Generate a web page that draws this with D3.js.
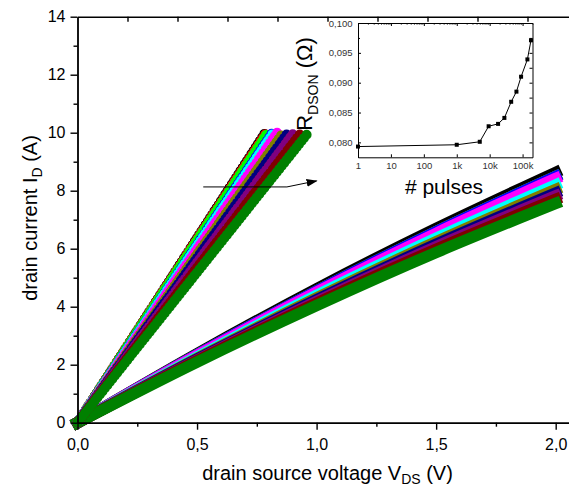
<!DOCTYPE html>
<html>
<head>
<meta charset="utf-8">
<script src="https://cdn.jsdelivr.net/npm/d3@7"></script>
<style>
  body { margin: 0; background: #fff; }
  svg { font-family: "Liberation Sans", Arial, sans-serif; }
</style>
</head>
<body>
<div id="chart"></div>
<script>
// ---- data ----
// steep traces (circles): V_DS where each trace reaches 10 A
const steepColors = ["#000000", "#ff0000", "#00ff00", "#0000ff", "#00ffff", "#ff00ff", "#808000", "#000080", "#800080", "#800000", "#008000"];
const steepEndV = [0.785, 0.79, 0.795, 0.815, 0.82, 0.835, 0.86, 0.88, 0.905, 0.935, 0.965];
const steepEndI = 10;

// shallow traces (squares): current at these voltages, one row per trace
const shallowV = [0, 0.5, 1.0, 1.5, 2.0];
const shallowColors = ["#000000", "#ff0000", "#00ff00", "#0000ff", "#ff00ff", "#00ffff", "#808000", "#000080", "#800080", "#800000", "#008000"];
const shallowI = [
  [0, 2.38, 4.62, 6.70, 8.63],
  [0, 2.34, 4.54, 6.59, 8.49],
  [0, 2.34, 4.54, 6.59, 8.49],
  [0, 2.34, 4.54, 6.59, 8.49],
  [0, 2.32, 4.50, 6.53, 8.42],
  [0, 2.26, 4.39, 6.36, 8.20],
  [0, 2.22, 4.30, 6.24, 8.04],
  [0, 2.19, 4.24, 6.15, 7.92],
  [0, 2.16, 4.18, 6.07, 7.82],
  [0, 2.13, 4.12, 5.98, 7.70],
  [0, 2.09, 4.04, 5.87, 7.56]
];

// inset: on-resistance vs number of pulses
const pulses = [1, 1000, 5000, 9300, 18000, 28000, 45000, 65000, 90000, 140000, 180000];
const rdson = [0.0793, 0.0796, 0.0801, 0.0827, 0.0831, 0.0841, 0.0868, 0.0885, 0.0910, 0.0939, 0.0971];

// ticks
const xTicks = [0, 0.5, 1.0, 1.5, 2.0];
const xMinor = [0.25, 0.75, 1.25, 1.75];
const yTicks = [0, 2, 4, 6, 8, 10, 12, 14];
const yMinor = [1, 3, 5, 7, 9, 11, 13];
const topTicks = [1, 2, 3, 4, 5, 6, 7, 8, 9];
const insetXTicks = [1, 10, 100, 1000, 10000, 100000];
const insetXLabels = ["1", "10", "100", "1k", "10k", "100k"];
const insetYTicks = [0.080, 0.085, 0.090, 0.095, 0.100];
const insetYMinor = [0.0825, 0.0875, 0.0925, 0.0975];

// arrow from the steep traces towards the inset (data coords)
const arrowPts = [[0.526, 8.13], [0.876, 8.13], [1.0, 8.34]];

// ---- chart ----
const svg = d3.select("#chart").append("svg")
    .attr("width", 569)
    .attr("height", 487);

const x = d3.scaleLinear().domain([0, 2.1]).range([77.5, 579.6]);
const y = d3.scaleLinear().domain([0, 14]).range([422.7, 16.7]);
const xTop = d3.scaleLinear().domain([0, 10]).range([77.5, 577.5]);
const commaFmt = f => d => d3.format(f)(d).replace(".", ",");

function styleAxis(g, w, fs) {
    g.selectAll(".domain").attr("stroke-width", w);
    g.selectAll(".tick line").attr("stroke-width", w);
    g.selectAll("text").attr("font-size", fs).attr("fill", "#000")
        .attr("font-family", "Liberation Sans, Arial, sans-serif");
}

// shallow traces (drawn first)
const shallowLine = d3.line()
    .x(d => x(d[0])).y(d => y(d[1]))
    .curve(d3.curveMonotoneX);
shallowI.forEach(function(row, k) {
    svg.append("path")
        .datum(row.map((v, j) => [shallowV[j], v]))
        .attr("d", shallowLine)
        .attr("fill", "none")
        .attr("stroke", shallowColors[k])
        .attr("stroke-width", 11.5)
        .attr("stroke-linecap", "square");
});

// steep traces, made of circles (round dots along the path)
steepEndV.forEach(function(v, k) {
    svg.append("path")
        .datum([[0, 0], [v, steepEndI]])
        .attr("d", d3.line().x(d => x(d[0])).y(d => y(d[1])))
        .attr("fill", "none")
        .attr("stroke", steepColors[k])
        .attr("stroke-width", 10)
        .attr("stroke-linecap", "round")
        .attr("stroke-dasharray", "0 4");
});

// main axes
const gx = svg.append("g").attr("transform", "translate(0," + y(0) + ")")
    .call(d3.axisBottom(x).tickValues(xTicks).tickFormat(commaFmt(".1f")).tickSize(7).tickSizeOuter(0).tickPadding(9));
styleAxis(gx, 1.4, 16);
const gxm = svg.append("g").attr("transform", "translate(0," + y(0) + ")")
    .call(d3.axisBottom(x).tickValues(xMinor).tickFormat("").tickSize(4).tickSizeOuter(0));
styleAxis(gxm, 1.4, 16);

const gy = svg.append("g").attr("transform", "translate(" + x(0) + ",0)")
    .call(d3.axisLeft(y).tickValues(yTicks).tickSize(7).tickSizeOuter(0).tickPadding(5));
styleAxis(gy, 1.4, 16);
const gym = svg.append("g").attr("transform", "translate(" + x(0) + ",0)")
    .call(d3.axisLeft(y).tickValues(yMinor).tickFormat("").tickSize(4).tickSizeOuter(0));
styleAxis(gym, 1.4, 16);

const gt = svg.append("g").attr("transform", "translate(0," + y(14) + ")")
    .call(d3.axisTop(xTop).tickValues(topTicks).tickFormat("").tickSize(-5).tickSizeOuter(0));
styleAxis(gt, 1.4, 16);

// arrow
svg.append("defs").append("marker")
    .attr("id", "arrowhead")
    .attr("markerUnits", "userSpaceOnUse")
    .attr("markerWidth", 11).attr("markerHeight", 8)
    .attr("refX", 10).attr("refY", 4)
    .attr("orient", "auto")
    .append("path").attr("d", "M0,0 L11,4 L0,8 Z").attr("fill", "#000");
svg.append("path")
    .datum(arrowPts)
    .attr("d", d3.line().x(d => x(d[0])).y(d => y(d[1])))
    .attr("fill", "none")
    .attr("stroke", "#000")
    .attr("stroke-width", 1)
    .attr("marker-end", "url(#arrowhead)");

// ---- inset ----
const ix = d3.scaleLog().domain([1, 2e5]).range([358, 532.5]);
const iy = d3.scaleLinear().domain([0.0775, 0.100]).range([157.3, 23]);

svg.append("rect")
    .attr("x", ix.range()[0]).attr("y", iy.range()[1])
    .attr("width", ix.range()[1] - ix.range()[0])
    .attr("height", iy.range()[0] - iy.range()[1])
    .attr("fill", "#fff");

const insetMinorX = [];
insetXTicks.forEach(function(d) {
    for (let m = 2; m <= 9; m++) if (d * m <= 2e5) insetMinorX.push(d * m);
});

const ib = svg.append("g").attr("transform", "translate(0," + iy.range()[0] + ")")
    .call(d3.axisBottom(ix).tickValues(insetXTicks).tickFormat((d, i) => insetXLabels[i]).tickSize(-3).tickSizeOuter(0).tickPadding(4.5));
styleAxis(ib, 1, 9.5);
ib.selectAll("text").attr("fill", "#333");

const it = svg.append("g").attr("transform", "translate(0," + iy.range()[1] + ")")
    .call(d3.axisTop(ix).tickValues(insetMinorX).tickFormat("").tickSize(-2).tickSizeOuter(0));
styleAxis(it, 1, 9.5);
it.selectAll(".tick line").attr("stroke", "#777");
const it2 = svg.append("g").attr("transform", "translate(0," + iy.range()[1] + ")")
    .call(d3.axisTop(ix).tickValues(insetXTicks).tickFormat("").tickSize(-3).tickSizeOuter(0));
styleAxis(it2, 1, 9.5);

const il = svg.append("g").attr("transform", "translate(" + ix.range()[0] + ",0)")
    .call(d3.axisLeft(iy).tickValues(insetYTicks).tickFormat(commaFmt(".3f")).tickSize(-3).tickSizeOuter(0).tickPadding(5.5));
styleAxis(il, 1, 9.5);
il.selectAll("text").attr("fill", "#333");
const ilm = svg.append("g").attr("transform", "translate(" + ix.range()[0] + ",0)")
    .call(d3.axisLeft(iy).tickValues(insetYMinor).tickFormat("").tickSize(-2).tickSizeOuter(0));
styleAxis(ilm, 1, 9.5);

const ir = svg.append("g").attr("transform", "translate(" + ix.range()[1] + ",0)")
    .call(d3.axisRight(iy).tickValues(insetYTicks.concat(insetYMinor)).tickFormat("").tickSize(-3).tickSizeOuter(0));
styleAxis(ir, 1, 9.5);

const insetData = pulses.map((p, i) => [p, rdson[i]]);
svg.append("path")
    .datum(insetData)
    .attr("d", d3.line().x(d => ix(d[0])).y(d => iy(d[1])))
    .attr("fill", "none")
    .attr("stroke", "#000")
    .attr("stroke-width", 1);
svg.selectAll(".ipt")
    .data(insetData)
    .enter().append("rect")
    .attr("class", "ipt")
    .attr("x", d => ix(d[0]) - 2)
    .attr("y", d => iy(d[1]) - 2)
    .attr("width", 4)
    .attr("height", 4)
    .attr("fill", "#000");

// ---- axis titles ----
const yl = svg.append("text")
    .attr("transform", "translate(36.5,218) rotate(-90)")
    .attr("text-anchor", "middle")
    .attr("font-size", 20)
    .text("drain current I");
yl.append("tspan").attr("font-size", 14).attr("dy", 5).text("D");
yl.append("tspan").attr("dy", -5).text(" (A)");

const xl = svg.append("text")
    .attr("x", 327.5).attr("y", 479.5)
    .attr("text-anchor", "middle")
    .attr("font-size", 20)
    .text("drain source voltage V");
xl.append("tspan").attr("font-size", 14).attr("dy", 4).text("DS");
xl.append("tspan").attr("dy", -4).text(" (V)");

const rl = svg.append("text")
    .attr("transform", "translate(311.5,84) rotate(-90)")
    .attr("text-anchor", "middle")
    .attr("font-size", 22)
    .text("R");
rl.append("tspan").attr("font-size", 14).attr("dy", 6).text("DSON");
rl.append("tspan").attr("dy", -6).text(" (\u03A9)");

svg.append("text")
    .attr("x", 444).attr("y", 194)
    .attr("text-anchor", "middle")
    .attr("font-size", 21)
    .text("# pulses");
</script>
</body>
</html>
